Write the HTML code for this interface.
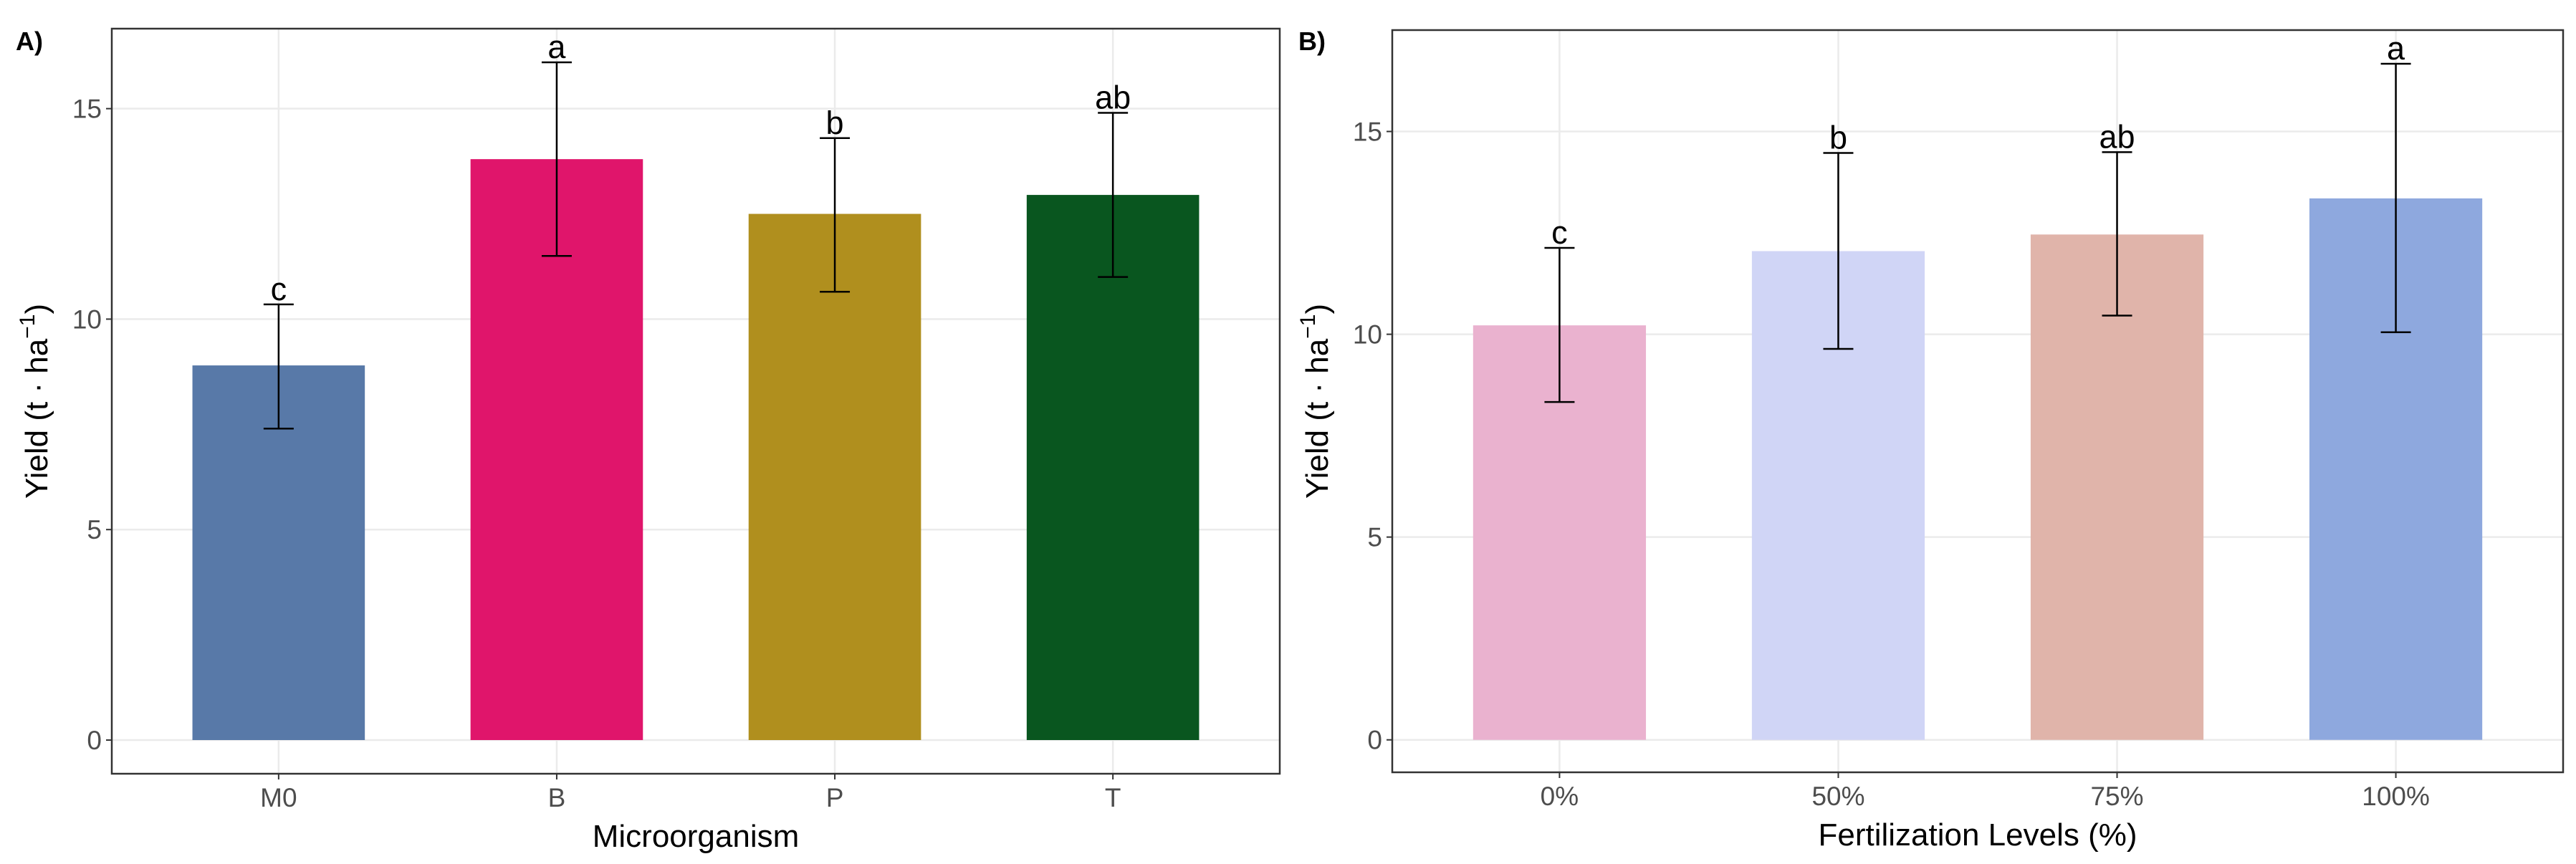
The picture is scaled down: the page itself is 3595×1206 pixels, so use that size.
<!DOCTYPE html>
<html><head><meta charset="utf-8"><style>
html,body{margin:0;padding:0;background:#fff;}
svg{display:block;font-family:"Liberation Sans",sans-serif;}
</style></head><body>
<svg id="chart" width="3595" height="1206" viewBox="0 0 3595 1206"></svg>
<script>
const catsA = ["M0","B","P","T"];
const meanA = [8.9,13.8,12.5,12.95];
const lowA = [7.4,11.5,10.65,11.0];
const highA = [10.35,16.1,14.3,14.9];
const lettersA = ["c","a","b","ab"];
const colorsA = ["#5879a8","#e0156b","#b08f1e","#09561f"];
const catsB = ["0%","50%","75%","100%"];
const meanB = [10.22,12.05,12.46,13.35];
const lowB = [8.33,9.64,10.46,10.05];
const highB = [12.13,14.47,14.49,16.67];
const lettersB = ["c","b","ab","a"];
const colorsB = ["#eab2cf","#d0d5f6","#e0b4aa","#8ea8de"];
const yTicks = [0,5,10,15];

const NS="http://www.w3.org/2000/svg";
const svg=document.getElementById('chart');
function mk(tag,attrs,parent,text){const e=document.createElementNS(NS,tag);for(const k in attrs)e.setAttribute(k,attrs[k]);if(text!==undefined)e.textContent=text;(parent||svg).appendChild(e);return e;}

function panel(p){
  const g=mk('g',{});
  
  
  const L=p.left,R=p.right,T=p.top,B=p.bottom;
  const y=v=>B-(v-p.ymin)/(p.ymax-p.ymin)*(B-T);
  const n=p.cats.length;const step=(R-L)/(n-1+1.2);
  const x=i=>L+step*(0.6+i);
  const bw=step*0.62;
  yTicks.forEach(t=>{
    const gl=mk('line',{x1:L,x2:R,y1:y(t),y2:y(t),stroke:'#ebebeb','stroke-width':2.5},g);
    
    
    const tk=mk('line',{x1:L-8,x2:L,y1:y(t),y2:y(t),stroke:'#333','stroke-width':2},g);
    
    
    const tl=mk('text',{x:L-14,y:y(t)+13,'text-anchor':'end','font-size':37,fill:'#4d4d4d'},g,String(t));
    
    
  });
  p.cats.forEach((c,i)=>{
    const vl=mk('line',{x1:x(i),x2:x(i),y1:T,y2:B,stroke:'#ebebeb','stroke-width':2.5},g);
    
    
  });
  p.cats.forEach((c,i)=>{
    const r=mk('rect',{x:x(i)-bw/2,y:y(p.mean[i]),width:bw,height:y(0)-y(p.mean[i]),fill:p.colors[i]},g);
    
    
    const eg=mk('g',{stroke:'#000','stroke-width':2.5},g);
    
    
    mk('line',{x1:x(i),x2:x(i),y1:y(p.high[i]),y2:y(p.low[i])},eg);
    mk('line',{x1:x(i)-21,x2:x(i)+21,y1:y(p.high[i]),y2:y(p.high[i])},eg);
    mk('line',{x1:x(i)-21,x2:x(i)+21,y1:y(p.low[i]),y2:y(p.low[i])},eg);
    const lt=mk('text',{x:x(i),y:y(p.high[i])-6,'text-anchor':'middle','font-size':45,fill:'#000'},g,p.letters[i]);
    
    
    const tk=mk('line',{x1:x(i),x2:x(i),y1:B,y2:B+8,stroke:'#333','stroke-width':2},g);
    
    
    const xl=mk('text',{x:x(i),y:B+46,'text-anchor':'middle','font-size':37,fill:'#4d4d4d'},g,c);
    
    
  });
  const fr=mk('rect',{x:L,y:T,width:R-L,height:B-T,fill:'none',stroke:'#333','stroke-width':2.5},g);
  
  
  const xt=mk('text',{x:(L+R)/2,y:B+102,'text-anchor':'middle','font-size':44,fill:'#000'},g,p.xtitle);
  
  
  const yt=mk('text',{transform:`translate(${L-90},${(T+B)/2}) rotate(-90)`,'text-anchor':'middle','font-size':44,fill:'#000'},g);
  
  
  yt.innerHTML='Yield (t \u00b7 ha<tspan dy="-18" font-size="30">\u22121</tspan><tspan dy="18">)</tspan>';
  const pl=mk('text',{x:p.labelX,y:70,'font-size':36,'font-weight':'bold',fill:'#000'},g,p.label);
  
  
}
panel({name:'panel-a-microorganism',left:156,right:1786,top:40,bottom:1080,ymin:-0.8,ymax:16.9,cats:catsA,mean:meanA,low:lowA,high:highA,letters:lettersA,colors:colorsA,xtitle:'Microorganism',label:'A)',labelX:22});
panel({name:'panel-b-fertilization',left:1943,right:3577,top:42,bottom:1078,ymin:-0.8,ymax:17.5,cats:catsB,mean:meanB,low:lowB,high:highB,letters:lettersB,colors:colorsB,xtitle:'Fertilization Levels (%)',label:'B)',labelX:1812});
</script>
</body></html>
